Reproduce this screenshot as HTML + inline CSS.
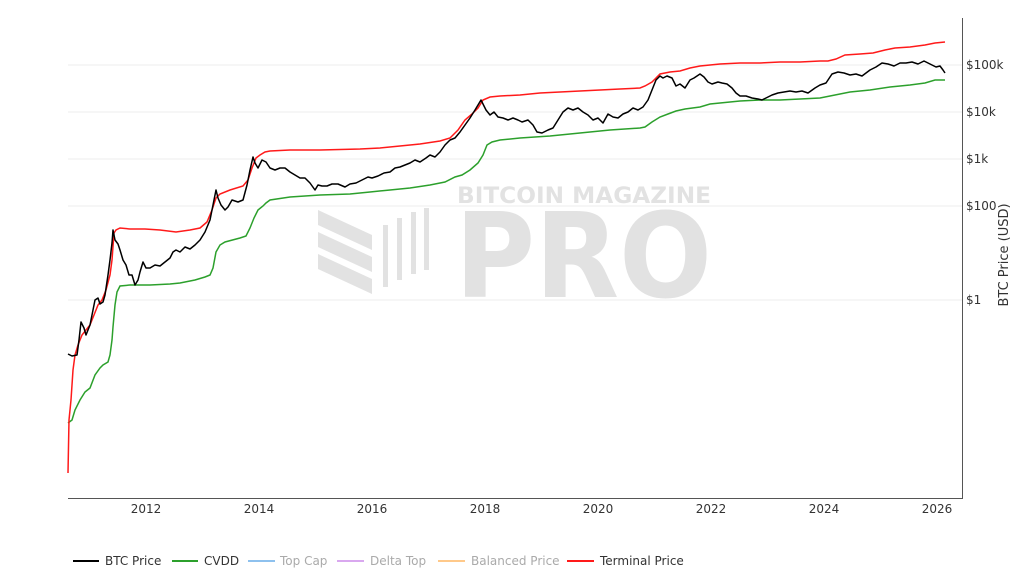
<!DOCTYPE html>
<html><head><meta charset="utf-8"><style>
body{margin:0;background:#fff;}
svg text{font-family:"DejaVu Sans","Liberation Sans",sans-serif;}
</style></head><body>
<svg width="1024" height="581" viewBox="0 0 1024 581" xmlns="http://www.w3.org/2000/svg">
<rect width="1024" height="581" fill="#fff"/>
<g stroke="#ececec" stroke-width="1">
<line x1="68" y1="65" x2="962" y2="65"/><line x1="68" y1="112" x2="962" y2="112"/><line x1="68" y1="159" x2="962" y2="159"/><line x1="68" y1="206" x2="962" y2="206"/><line x1="68" y1="300" x2="962" y2="300"/>
</g>
<g fill="#e2e2e2">
<text x="457" y="203" font-size="22" font-weight="bold" textLength="254" lengthAdjust="spacingAndGlyphs">BITCOIN MAGAZINE</text>
<text x="455" y="297" font-size="118" font-weight="bold" textLength="257" lengthAdjust="spacingAndGlyphs">PRO</text>
<polygon points="318,210 372,235 372,250 318,225"/>
<polygon points="318,232 372,257 372,272 318,247"/>
<polygon points="318,254 372,279 372,294 318,269"/>
<rect x="383" y="225" width="5" height="62"/><rect x="397" y="218" width="5" height="62"/><rect x="411" y="212" width="5" height="62"/><rect x="424" y="208" width="5" height="62"/>
</g>
<polyline fill="none" stroke="#2ca02c" stroke-width="1.5" points="68,423 72,420 75,410 80,400 85,392 90,388 95,375 100,368 103,365 108,362 110,355 112,340 113,327 115,305 117,292 120,286 130,285 150,285 170,284 180,283 195,280 205,277 210,275 213,268 216,252 220,245 225,242 240,238 246,236 250,228 254,218 258,210 263,206 266,203 270,200 290,197 320,195 350,194 370,192 390,190 410,188 430,185 445,182 455,177 462,175 470,170 478,163 483,155 487,145 492,142 500,140 520,138 550,136 580,133 610,130 640,128 645,127 652,122 660,117 668,114 676,111 685,109 700,107 710,104 720,103 740,101 760,100 780,100 800,99 820,98 830,96 840,94 850,92 870,90 890,87 910,85 925,83 935,80 945,80"/>
<polyline fill="none" stroke="#ff1a1a" stroke-width="1.5" points="68,473 69,420 71,400 73,370 75,355 78,345 82,335 86,330 90,325 94,315 98,305 102,300 106,290 110,275 112,260 114,233 116,230 120,228 130,229 145,229 160,230 176,232 190,230 200,228 207,222 212,210 216,198 220,194 230,190 243,186 248,180 252,168 256,158 260,155 265,152 270,151 290,150 320,150 360,149 380,148 400,146 420,144 440,141 450,138 458,130 465,120 472,114 478,108 483,100 490,97 500,96 520,95 540,93 560,92 580,91 600,90 620,89 640,88 645,86 652,82 656,78 660,74 670,72 680,71 690,68 700,66 720,64 740,63 760,63 780,62 800,62 820,61 828,61 836,59 845,55 860,54 873,53 885,50 895,48 910,47 925,45 935,43 945,42"/>
<polyline fill="none" stroke="#000" stroke-width="1.5" stroke-linejoin="round" points="68,354 72,356 77,355 79,340 81,322 84,328 86,335 90,325 93,310 95,300 98,298 100,304 103,302 105,295 108,275 110,260 112,243 113,230 115,240 118,244 120,250 123,260 126,265 129,275 132,275 135,285 138,280 140,272 143,262 146,268 150,268 155,265 160,266 165,262 170,258 173,252 176,250 180,252 185,247 190,249 195,245 200,240 205,232 210,220 213,205 216,190 218,198 221,205 225,210 228,207 232,200 238,202 243,200 247,185 250,170 253,157 255,163 258,168 262,160 266,162 270,168 275,170 280,168 285,168 290,172 295,175 300,178 305,178 310,183 315,190 318,185 322,186 327,186 332,184 338,184 345,187 350,184 356,183 362,180 368,177 372,178 378,176 384,173 390,172 395,168 400,167 405,165 410,163 415,160 420,162 426,158 430,155 435,157 440,152 445,145 450,140 455,138 460,132 465,125 470,118 475,110 478,105 481,100 483,104 486,110 490,115 494,112 498,117 503,118 508,120 513,118 518,120 522,122 528,120 533,125 537,132 542,133 548,130 553,128 558,120 563,112 568,108 573,110 578,108 583,112 588,115 593,120 598,118 603,123 608,114 613,117 618,118 623,114 628,112 633,108 638,110 643,107 648,100 652,90 656,80 660,76 663,78 667,76 672,78 676,86 680,84 685,88 690,80 694,78 700,74 704,77 708,82 712,84 718,82 722,83 727,84 732,88 736,93 740,96 746,96 752,98 758,99 762,100 766,98 772,95 778,93 784,92 790,91 796,92 802,91 808,93 815,88 820,85 826,83 832,74 838,72 844,73 850,75 856,74 862,76 866,73 870,70 876,67 882,63 888,64 894,66 900,63 906,63 912,62 918,64 924,61 930,64 936,67 940,66 943,70 945,73"/>
<line x1="68" y1="498.5" x2="962" y2="498.5" stroke="#555" stroke-width="1"/>
<line x1="962.5" y1="18" x2="962.5" y2="499" stroke="#555" stroke-width="1"/>
<g font-size="12" fill="#333">
<text x="966" y="69">$100k</text><text x="966" y="116">$10k</text><text x="966" y="163">$1k</text><text x="966" y="210">$100</text><text x="966" y="304">$1</text>
</g>
<g font-size="12" fill="#333" text-anchor="middle">
<text x="146" y="513">2012</text><text x="259" y="513">2014</text><text x="372" y="513">2016</text><text x="485" y="513">2018</text><text x="598" y="513">2020</text><text x="711" y="513">2022</text><text x="824" y="513">2024</text><text x="937" y="513">2026</text>
</g>
<text transform="translate(1008,255) rotate(-90)" font-size="13" fill="#333" text-anchor="middle">BTC Price (USD)</text>
<g font-size="12">
<line x1="73" y1="561" x2="99" y2="561" stroke="#000" stroke-width="2"/><text x="105" y="565" fill="#333">BTC Price</text>
<line x1="172" y1="561" x2="198" y2="561" stroke="#2ca02c" stroke-width="2"/><text x="204" y="565" fill="#333">CVDD</text>
<line x1="248" y1="561" x2="275" y2="561" stroke="#8ec1ee" stroke-width="2"/><text x="280" y="565" fill="#aaa">Top Cap</text>
<line x1="337" y1="561" x2="364" y2="561" stroke="#d9a8ef" stroke-width="2"/><text x="370" y="565" fill="#aaa">Delta Top</text>
<line x1="438" y1="561" x2="465" y2="561" stroke="#ffc98a" stroke-width="2"/><text x="471" y="565" fill="#aaa">Balanced Price</text>
<line x1="567" y1="561" x2="594" y2="561" stroke="#ff1a1a" stroke-width="2"/><text x="600" y="565" fill="#333">Terminal Price</text>
</g>
</svg>
</body></html>
